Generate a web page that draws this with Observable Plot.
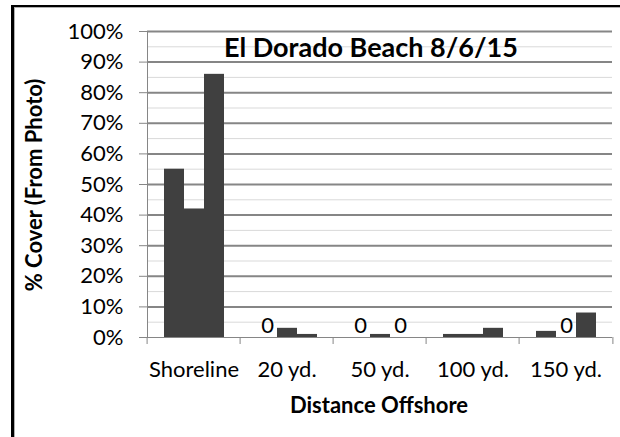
<!DOCTYPE html>
<html>
<head>
<meta charset="utf-8">
<script src="https://cdn.jsdelivr.net/npm/d3@7"></script>
<script src="https://cdn.jsdelivr.net/npm/@observablehq/plot@0.6"></script>
<style>
  html, body { margin: 0; padding: 0; background: #fff; }
  #wrap { position: relative; width: 620px; height: 437px; overflow: hidden; font-family: Lato, "Open Sans", sans-serif; }
  #chart { position: absolute; left: 0; top: 0; }
  .border { position: absolute; left: 11px; top: 5px; width: 700px; height: 600px;
            border-left: 3px solid #000; border-top: 2px solid #000; box-shadow: inset 1px 1px 0 #b0b0b0; }
  .title { position: absolute; left: 224px; top: 30px; font-weight: bold; font-size: 27px; color: #000; white-space: nowrap; }
  .ylab { position: absolute; left: 33px; top: 185px; transform: translate(-50%, -50%) rotate(-90deg);
          font-weight: bold; font-size: 22px; color: #000; white-space: nowrap; }
  .xlab { position: absolute; left: 379px; top: 404px; transform: translate(-50%, -50%);
          font-weight: bold; font-size: 22px; color: #000; white-space: nowrap; }
</style>
</head>
<body>
<div id="wrap">
  <div class="border"></div>
  <div id="chart"></div>
  <div class="title">El Dorado Beach 8/6/15</div>
  <div class="ylab">% Cover (From Photo)</div>
  <div class="xlab">Distance Offshore</div>
</div>
<script>
// ---- data ----
const categories = ["Shoreline", "20 yd.", "50 yd.", "100 yd.", "150 yd."];
const seriesNames = ["A", "B", "C"];
const seriesA = [55, 0, 0, 1, 2];
const seriesB = [42, 3, 1, 1, 0];
const seriesC = [86, 1, 0, 3, 8];
const majorTicks = [0, 10, 20, 30, 40, 50, 60, 70, 80, 90, 100];
const minorTicks = [5, 15, 25, 35, 45, 55, 65, 75, 85, 95];

const seriesValues = [seriesA, seriesB, seriesC];
const rows = [];
categories.forEach((c, i) => {
  seriesNames.forEach((s, j) => rows.push({cat: c, series: s, value: seriesValues[j][i]}));
});
const zeros = rows.filter(d => d.value === 0);

const W = 620, H = 437, ML = 145, MR = 6, MT = 31, MB = 100;
const facetW = (W - ML - MR) / categories.length;
const axisGray = "#868686";

const chart = Plot.plot({
  width: W, height: H,
  marginLeft: ML, marginRight: MR, marginTop: MT, marginBottom: MB,
  style: {fontFamily: "Lato, 'Open Sans', sans-serif", fontSize: "22px", color: "#000", background: "transparent"},
  fx: {domain: categories, padding: 0, axis: null, label: null},
  x: {domain: seriesNames, padding: 0, paddingOuter: 0.75, axis: null},
  y: {domain: [0, 100], axis: null},
  marks: [
    Plot.gridY(minorTicks, {stroke: "#d9d9d9", strokeOpacity: 1, strokeWidth: 1}),
    Plot.gridY(majorTicks.filter(t => t > 0), {stroke: axisGray, strokeOpacity: 1, strokeWidth: 2}),
    Plot.ruleY([0], {stroke: axisGray, strokeWidth: 1}),
    Plot.frame({anchor: "left", facetAnchor: "left", stroke: axisGray}),
    Plot.axisY({ticks: majorTicks, tickFormat: d => d + "%", tickSize: 8, tickPadding: 16,
                stroke: axisGray, fill: "#000", label: null, fontSize: 22}),
    Plot.barY(rows, {fx: "cat", x: "series", y: "value", fill: "#404040"}),
    Plot.text(zeros, {fx: "cat", x: "series", y: 0, text: d => String(d.value), dy: -12,
                      fontSize: 22, fill: "#000"}),
    Plot.axisFx({anchor: "bottom", tickSize: 7, dx: -facetW / 2, tickFormat: () => "",
                 stroke: axisGray, label: null}),
    Plot.axisFx({anchor: "bottom", ticks: [categories[categories.length - 1]], tickSize: 7,
                 dx: facetW / 2, tickFormat: () => "", stroke: axisGray, label: null}),
    Plot.axisFx({anchor: "bottom", tickSize: 0, tickPadding: 24, fill: "#000", label: null, fontSize: 22})
  ]
});
document.getElementById("chart").appendChild(chart);
</script>
</body>
</html>
